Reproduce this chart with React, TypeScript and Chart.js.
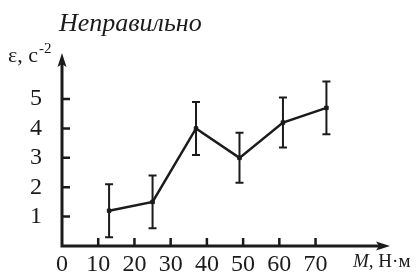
import { useEffect, useRef } from "react";
import { Chart, registerables } from "chart.js";
Chart.register(...registerables);

const xValues = [13, 25, 37, 49, 61, 73];
const yValues = [1.2, 1.5, 4.0, 3.0, 4.2, 4.7];
const errors = [0.9, 0.9, 0.9, 0.85, 0.85, 0.9];
const xTickLabels = [0, 10, 20, 30, 40, 50, 60, 70];
const yTickLabels = [1, 2, 3, 4, 5];
const titleText = "Неправильно";
const yAxisText = "ε, с";
const yAxisSup = "-2";
const xAxisItalic = "M";
const xAxisText = ", Н·м";

const SERIF = "'Liberation Serif', 'Times New Roman', serif";
const INK = "#1b1b1b";

const decorPlugin = {
  id: "decor",
  beforeDatasetsDraw(chart: any) {
    const ctx = chart.ctx;
    const xs = chart.scales.x;
    const ys = chart.scales.y;
    ctx.save();
    ctx.strokeStyle = INK;
    ctx.fillStyle = INK;
    // error bars
    ctx.lineWidth = 2;
    xValues.forEach((xv, i) => {
      const px = xs.getPixelForValue(xv);
      const top = ys.getPixelForValue(yValues[i] + errors[i]);
      const bot = ys.getPixelForValue(yValues[i] - errors[i]);
      ctx.beginPath();
      ctx.moveTo(px, top);
      ctx.lineTo(px, bot);
      ctx.moveTo(px - 4, top);
      ctx.lineTo(px + 4, top);
      ctx.moveTo(px - 4, bot);
      ctx.lineTo(px + 4, bot);
      ctx.stroke();
    });
    // axes
    const x0 = xs.getPixelForValue(0);
    const y0 = ys.getPixelForValue(0);
    const xEnd = xs.right;
    const yEnd = ys.top;
    ctx.lineWidth = 3;
    ctx.beginPath();
    ctx.moveTo(x0, y0 + 1.5);
    ctx.lineTo(x0, yEnd + 8);
    ctx.moveTo(x0 - 1.5, y0);
    ctx.lineTo(xEnd - 8, y0);
    ctx.stroke();
    // arrow heads
    ctx.beginPath();
    ctx.moveTo(x0, yEnd - 2);
    ctx.lineTo(x0 - 4.5, yEnd + 12);
    ctx.lineTo(x0, yEnd + 9);
    ctx.lineTo(x0 + 4.5, yEnd + 12);
    ctx.closePath();
    ctx.fill();
    ctx.beginPath();
    ctx.moveTo(xEnd + 2, y0);
    ctx.lineTo(xEnd - 12, y0 - 4.5);
    ctx.lineTo(xEnd - 9, y0);
    ctx.lineTo(xEnd - 12, y0 + 4.5);
    ctx.closePath();
    ctx.fill();
    // tick marks
    ctx.lineWidth = 2.5;
    ctx.beginPath();
    xTickLabels.forEach((v) => {
      if (v === 0) return;
      const px = xs.getPixelForValue(v);
      ctx.moveTo(px, y0);
      ctx.lineTo(px, y0 - 8);
    });
    yTickLabels.forEach((v) => {
      const py = ys.getPixelForValue(v);
      ctx.moveTo(x0, py);
      ctx.lineTo(x0 + 8, py);
    });
    ctx.stroke();
    // texts
    ctx.textBaseline = "alphabetic";
    ctx.textAlign = "left";
    ctx.font = `italic 26px ${SERIF}`;
    ctx.fillText(titleText, 59, 31);
    ctx.font = `22px ${SERIF}`;
    ctx.fillText(yAxisText, 8, 62);
    const w1 = ctx.measureText(yAxisText).width;
    ctx.font = `15px ${SERIF}`;
    ctx.fillText(yAxisSup, 8 + w1 + 1, 53);
    ctx.font = `italic 19px ${SERIF}`;
    ctx.fillText(xAxisItalic, 353, 267);
    const w2 = ctx.measureText(xAxisItalic).width;
    ctx.font = `19px ${SERIF}`;
    ctx.fillText(xAxisText, 353 + w2, 267);
    ctx.restore();
  },
};

export default function App() {
  const ref = useRef<HTMLCanvasElement | null>(null);
  useEffect(() => {
    document.body.style.margin = "0";
    if (!ref.current) return;
    const chart = new Chart(ref.current, {
      type: "line",
      data: {
        datasets: [
          {
            data: xValues.map((x, i) => ({ x, y: yValues[i] })),
            borderColor: INK,
            backgroundColor: INK,
            borderWidth: 2.5,
            pointStyle: "rect",
            pointRadius: 2.5,
            pointBorderWidth: 1,
            tension: 0,
          },
        ],
      },
      options: {
        animation: false,
        responsive: false,
        layout: { padding: { top: 55, right: 28, left: 0, bottom: 0 } },
        plugins: { legend: { display: false }, tooltip: { enabled: false } },
        scales: {
          x: {
            type: "linear",
            min: 0,
            max: 90,
            grid: { display: false, drawTicks: false },
            border: { display: false },
            afterFit: (s: any) => {
              s.height = 29;
              s.paddingLeft = 0;
              s.paddingRight = 0;
            },
            ticks: {
              stepSize: 10,
              padding: 4,
              color: INK,
              font: { family: SERIF, size: 24 },
              maxRotation: 0,
              autoSkip: false,
              callback: (v: any) => (xTickLabels.includes(v) ? String(v) : ""),
            },
          },
          y: {
            type: "linear",
            min: 0,
            max: 6.5,
            grid: { display: false, drawTicks: false },
            border: { display: false },
            afterFit: (s: any) => {
              s.width = 62;
              s.paddingTop = 0;
              s.paddingBottom = 0;
            },
            ticks: {
              stepSize: 1,
              padding: 20,
              color: INK,
              font: { family: SERIF, size: 24 },
              autoSkip: false,
              callback: (v: any) => (yTickLabels.includes(v) ? String(v) : ""),
            },
          },
        },
      },
      plugins: [decorPlugin],
    });
    return () => chart.destroy();
  }, []);
  return (
    <div style={{ width: 416, height: 275 }}>
      <canvas ref={ref} width={416} height={275} />
    </div>
  );
}
